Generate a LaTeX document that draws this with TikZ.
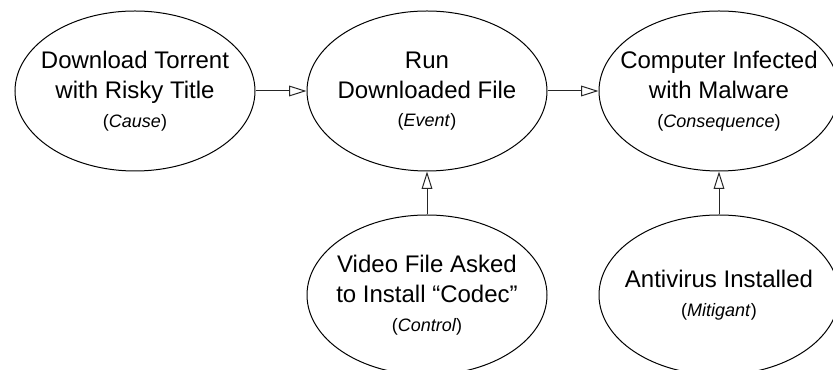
\documentclass[tikz,border=0pt]{standalone}
\usepackage{fontspec}
\setmainfont{Liberation Sans}
\usepackage{tikz}
\usetikzlibrary{shapes.geometric, arrows.meta}
\newcommand{\rolename}[1]{\\[-1pt]{\fontsize{13.5}{21}\selectfont(\textit{#1})}}
\tikzstyle{bowtie} = [ellipse, minimum width=180pt, minimum height=120pt, inner xsep=-20pt, inner ysep=0pt, text centered, align=center, draw=black, line width=0.75pt, font=\fontsize{18}{22.5}\selectfont]
\tikzstyle{arrow} = [line width=0.75pt, draw=black!85, -{Triangle[open, length=13pt, width=8pt, fill=white]}]

\begin{document}
\begin{tikzpicture}[node distance=219pt]
\useasboundingbox (-101.25pt,68.25pt) rectangle (523.5pt,-209.25pt);
\node (cause) [bowtie] {Download Torrent\\with Risky Title\rolename{Cause}};
\node (event) [bowtie, right of=cause] {Run\\Downloaded File\rolename{Event}};
\node (conseq) [bowtie, right of=event] {Computer Infected\\with Malware\rolename{Consequence}};
\node (control) [bowtie, below of=event, node distance=153pt] {Video File Asked\\to Install “Codec”\rolename{Control}};
\node (mitig) [bowtie, below of=conseq, node distance=153pt] {Antivirus Installed\rolename{Mitigant}};

\draw [arrow] (cause) -- (event);
\draw [arrow] (event) -- (conseq);
\draw [arrow] (control) -- (event);
\draw [arrow] (mitig) -- (conseq);
\end{tikzpicture}
\end{document}
